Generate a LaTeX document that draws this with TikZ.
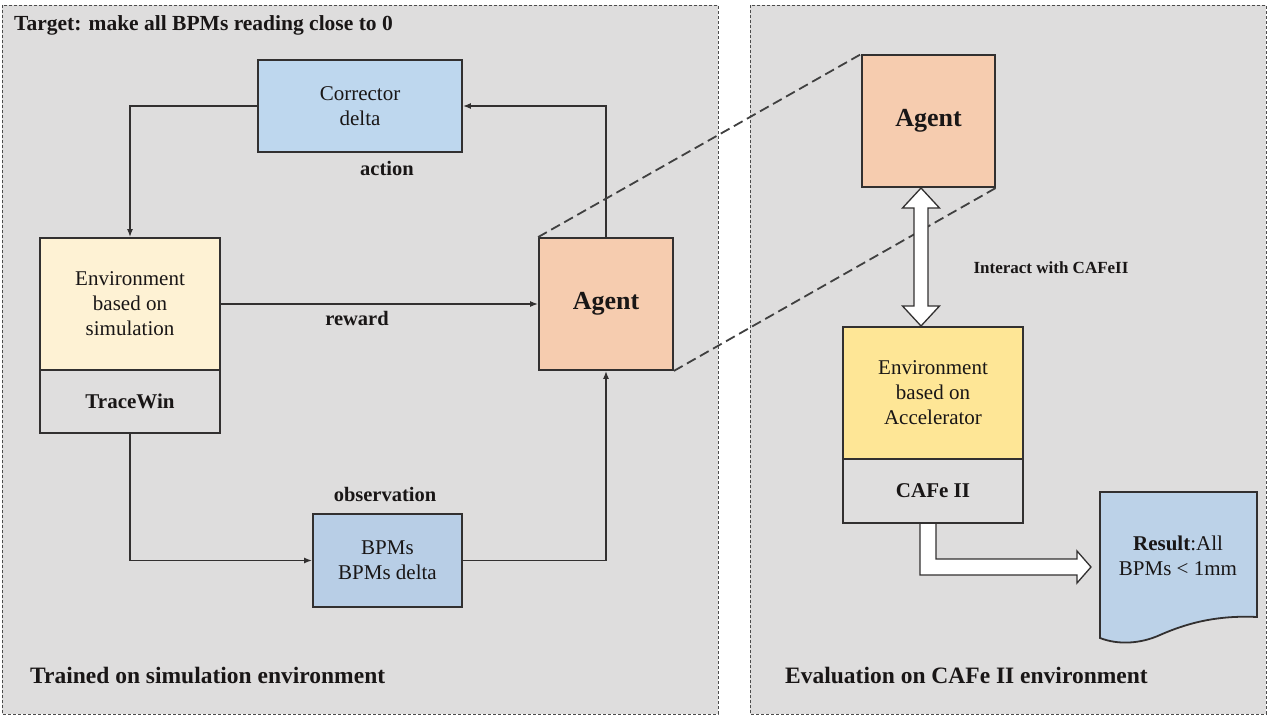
\documentclass[tikz,border=0pt]{standalone}
\usepackage{fontspec}
\setmainfont{Liberation Serif}
\usetikzlibrary{arrows.meta,calc}
\definecolor{panelgray}{RGB}{222,221,221}
\definecolor{boxline}{RGB}{50,48,48}
\definecolor{txt}{RGB}{25,22,22}
\definecolor{corrblue}{RGB}{190,215,238}
\definecolor{bpmblue}{RGB}{184,206,230}
\definecolor{agentor}{RGB}{246,204,175}
\definecolor{envcream}{RGB}{254,242,212}
\definecolor{envyellow}{RGB}{254,230,150}
\definecolor{lowgray}{RGB}{223,222,222}
\definecolor{docblue}{RGB}{188,210,232}
\tikzset{
  panel/.style={draw=black!70, dash pattern=on 3pt off 2pt, line width=0.9pt, fill=panelgray},
  boxn/.style={draw=boxline, line width=1.8pt, inner sep=0pt, align=center, text=txt,
    font=\fontsize{21}{25}\selectfont},
  conn/.style={draw=boxline, line width=1.5pt, -{Latex[length=8pt,width=6pt]}},
  lbl/.style={font=\fontsize{20.5}{24}\selectfont\bfseries, text=txt, inner sep=0pt},
  ttl/.style={font=\fontsize{21.5}{25}\selectfont\bfseries, text=txt, inner sep=0pt, anchor=west},
  zoomline/.style={draw=black!75, line width=1.8pt, dash pattern=on 10pt off 5pt},
  hollow/.style={draw=boxline, line width=1.3pt, fill=white, line join=miter}
}
\begin{document}
\begin{tikzpicture}[x=1pt,y=-1pt]
\useasboundingbox (0,0) rectangle (1269,719);
\fill[white] (0,0) rectangle (1269,719);
% panels
\path[panel] (2,5) rectangle (718,714);
\path[panel] (750,5) rectangle (1266,714);
% titles
\node[ttl] (title) at (14,25) {Target: make all BPMs reading close to 0};
\node[ttl, font=\fontsize{23.5}{27}\selectfont\bfseries] (trained) at (30,675) {Trained on simulation environment};
\node[ttl, font=\fontsize{23.5}{27}\selectfont\bfseries] (evalt) at (785,675) {Evaluation on CAFe II environment};
% left boxes
\node[boxn, fill=corrblue, minimum width=204pt, minimum height=92pt] (corr) at (360,106) {Corrector\\delta};
\node[boxn, fill=envcream, minimum width=180pt, minimum height=132pt] (envtop) at (130,304) {Environment\\based on\\simulation};
\node[boxn, fill=lowgray, minimum width=180pt, minimum height=63pt, font=\fontsize{21}{25}\selectfont\bfseries] (envbot) at (130,401.5) {TraceWin};
\node[boxn, fill=agentor, minimum width=134pt, minimum height=132pt, font=\fontsize{26}{30}\selectfont\bfseries] (agent1) at (606,304) {Agent};
\node[boxn, fill=bpmblue, minimum width=149pt, minimum height=93pt] (bpm) at (387.5,560.5) {BPMs\\BPMs delta};
% labels
\node[lbl] (action) at (387,168) {action};
\node[lbl] (reward) at (357,318) {reward};
\node[lbl] (obs) at (385,494) {observation};
% connectors
\draw[conn] (agent1.north) |- (corr.east);
\draw[conn] (corr.west) -| (envtop.north);
\draw[conn] (envtop.east) -- (agent1.west);
\draw[conn] (envbot.south) |- (bpm.west);
\draw[conn] (bpm.east) -| (agent1.south);
% right boxes
\node[boxn, fill=agentor, minimum width=133pt, minimum height=132pt, font=\fontsize{26}{30}\selectfont\bfseries] (agent2) at (928.5,121) {Agent};
\node[boxn, fill=envyellow, minimum width=180pt, minimum height=132pt] (env2top) at (933,393) {Environment\\based on\\Accelerator};
\node[boxn, fill=lowgray, minimum width=180pt, minimum height=64pt, font=\fontsize{21}{25}\selectfont\bfseries] (env2bot) at (933,491) {CAFe II};
% zoom lines
\draw[zoomline] (agent1.north west) -- (agent2.north west);
\draw[zoomline] (agent1.south east) -- (agent2.south east);
% double hollow arrow
\draw[hollow] (921,188) -- (939.5,208) -- (928,208) -- (928,306) -- (939.5,306) -- (921,326)
  -- (902.5,306) -- (914,306) -- (914,208) -- (902.5,208) -- cycle;
\node[lbl, font=\fontsize{17}{20}\selectfont\bfseries] (interact) at (1051,268) {Interact with CAFeII};
% result document
\draw[draw=boxline, line width=1.8pt, fill=docblue] (1100,492) -- (1257,492) -- (1257,617)
  .. controls (1215,615) and (1185,624) .. (1160,635)
  .. controls (1140,644) and (1118,645) .. (1100,638) -- cycle;
\node[text=txt, align=center, font=\fontsize{21}{25}\selectfont, inner sep=0pt] (result) at (1178,556) {\textbf{Result}:All\\BPMs < 1mm};
% L hollow arrow
\draw[hollow] (920,524) -- (920,575) -- (1077,575) -- (1077,583) -- (1091,567) -- (1077,551) -- (1077,559) -- (936,559) -- (936,524);
\end{tikzpicture}
\end{document}
